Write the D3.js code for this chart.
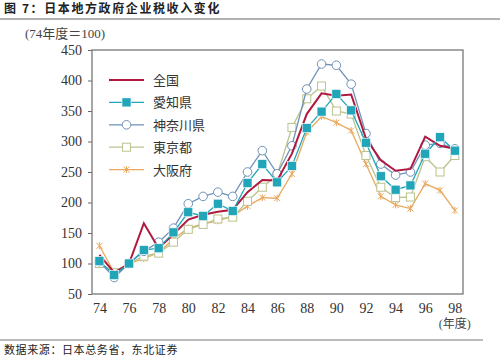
<!DOCTYPE html>
<html>
<head>
<meta charset="utf-8">
<script src="https://cdn.jsdelivr.net/npm/d3@7"></script>
<style>
  body { margin: 0; background: #fff; }
  svg { display: block; }
</style>
</head>
<body>
<div id="chart"></div>
<script>
const years = d3.range(74, 99)
const xTicks = [74, 76, 78, 80, 82, 84, 86, 88, 90, 92, 94, 96, 98]
const yTicks = [50, 100, 150, 200, 250, 300, 350, 400, 450]

const zenkoku  = [114, 85, 100, 166, 125, 148, 172, 180, 185, 188, 217, 237, 236, 280, 345, 379, 375, 377, 305, 269, 252, 255, 308, 293, 288]
const aichi    = [104, 81, 100, 122, 125, 151, 184, 178, 198, 186, 232, 263, 233, 260, 322, 349, 378, 351, 298, 243, 221, 228, 280, 307, 285]
const kanagawa = [103, 77, 100, 120, 135, 158, 198, 210, 217, 210, 250, 285, 247, 293, 386, 427, 425, 394, 313, 263, 245, 250, 294, 297, 288]
const tokyo    = [100, 85, 100, 112, 117, 135, 156, 164, 173, 176, 202, 225, 245, 323, 370, 391, 350, 345, 277, 225, 208, 209, 275, 250, 277]
const osaka    = [129, 85, 100, 108, 118, 140, 158, 165, 170, 178, 194, 208, 207, 247, 315, 341, 331, 318, 263, 210, 196, 190, 231, 220, 187]

const series = [
  { name: '大阪府', values: osaka, color: '#eaa85c', marker: 'x' },
  { name: '東京都', values: tokyo, color: '#b9c48e', marker: 'square-open' },
  { name: '神奈川県', values: kanagawa, color: '#6f92b8', marker: 'circle' },
  { name: '全国', values: zenkoku, color: '#b01840', marker: 'none' },
  { name: '愛知県', values: aichi, color: '#20a6b8', marker: 'square' }
]
const legendOrder = ['全国', '愛知県', '神奈川県', '東京都', '大阪府']

const serif = "'Liberation Serif', 'DejaVu Serif', serif"

const svg = d3.select('#chart').append('svg')
  .attr('width', 500).attr('height', 361)

// title and footer
svg.append('text')
  .attr('x', 4).attr('y', 13)
  .attr('font-family', "'Noto Sans CJK SC', sans-serif")
  .attr('font-weight', 'bold').attr('font-size', 12).attr('fill', '#222')
  .attr('letter-spacing', 1.6)
  .text('图 7：日本地方政府企业税收入变化')
svg.append('line').attr('x1', 0).attr('x2', 500).attr('y1', 19).attr('y2', 19)
  .attr('stroke', '#999').attr('stroke-width', 1.5)
svg.append('line').attr('x1', 0).attr('x2', 483).attr('y1', 340).attr('y2', 340)
  .attr('stroke', '#777').attr('stroke-width', 1)
svg.append('text')
  .attr('x', 4).attr('y', 354)
  .attr('font-family', "'Noto Sans CJK SC', sans-serif")
  .attr('font-size', 11).attr('fill', '#222')
  .attr('letter-spacing', 0.6)
  .text('数据来源：日本总务省，东北证券')

let margin = { top: 50, left: 92 },
    width = 463 - 92,
    height = 294 - 50

let x = d3.scaleLinear().domain([73.5, 98.55]).range([0, width])
let y = d3.scaleLinear().domain([50, 450]).range([height, 0])

let g = svg.append('g')
  .attr('transform', 'translate(' + margin.left + ',' + margin.top + ')')

g.append('text')
  .attr('x', -67).attr('y', -12)
  .attr('font-family', "'Liberation Serif', 'Noto Sans CJK JP', serif")
  .attr('font-size', 13).attr('fill', '#444')
  .text('(74年度＝100)')

g.append('g')
  .attr('transform', 'translate(0,' + height + ')')
  .call(d3.axisBottom(x).tickValues(xTicks).tickSize(0).tickPadding(9).tickSizeOuter(0))
  .attr('font-family', serif).attr('font-size', 14)
  .call(a => a.select('.domain').remove())
  .call(a => a.selectAll('.tick text').attr('fill', '#333'))

g.append('g')
  .call(d3.axisLeft(y).tickValues(yTicks).tickSize(4).tickPadding(6).tickSizeOuter(0))
  .attr('font-family', serif).attr('font-size', 14)
  .call(a => a.select('.domain').remove())
  .call(a => a.selectAll('.tick line').attr('stroke', '#666'))
  .call(a => a.selectAll('.tick text').attr('fill', '#333'))

g.append('text')
  .attr('x', x(98)).attr('y', height + 34)
  .attr('text-anchor', 'middle')
  .attr('font-family', "'Liberation Serif', 'Noto Sans CJK JP', serif")
  .attr('font-size', 12).attr('fill', '#444')
  .text('(年度)')

g.append('rect')
  .attr('width', width).attr('height', height)
  .attr('fill', 'none').attr('stroke', '#777').attr('stroke-width', 1.3)

function drawMarker(sel, s, px, py) {
  if (s.marker === 'square') {
    sel.append('rect').attr('x', px - 4.5).attr('y', py - 4.5).attr('width', 9).attr('height', 9)
      .attr('fill', s.color).attr('stroke', '#fff').attr('stroke-width', 0.6)
  } else if (s.marker === 'square-open') {
    sel.append('rect').attr('x', px - 4).attr('y', py - 4).attr('width', 8).attr('height', 8)
      .attr('fill', '#fff').attr('stroke', s.color).attr('stroke-width', 1)
  } else if (s.marker === 'circle') {
    sel.append('circle').attr('cx', px).attr('cy', py).attr('r', 4.3)
      .attr('fill', '#fff').attr('stroke', s.color).attr('stroke-width', 1)
  } else if (s.marker === 'x') {
    sel.append('path')
      .attr('d', `M${px - 3},${py - 3}L${px + 3},${py + 3}M${px - 3},${py + 3}L${px + 3},${py - 3}M${px},${py - 3.5}L${px},${py + 3.5}`)
      .attr('stroke', s.color).attr('stroke-width', 1)
  }
}

let line = d3.line().x(d => x(d.x)).y(d => y(d.y))

series.forEach(s => {
  const data = years.map((yr, i) => ({ x: yr, y: s.values[i] }))
  const sg = g.append('g')
  sg.append('path').datum(data)
    .attr('d', line).attr('fill', 'none')
    .attr('stroke', s.color).attr('stroke-width', s.marker === 'none' ? 2 : 1.3)
  data.forEach(d => drawMarker(sg, s, x(d.x), y(d.y)))
})

// legend
const lg = svg.append('g')
legendOrder.forEach((name, i) => {
  const s = series.find(t => t.name === name)
  const ly = 80 + i * 22.4
  lg.append('line').attr('x1', 109).attr('x2', 144).attr('y1', ly).attr('y2', ly)
    .attr('stroke', s.color).attr('stroke-width', s.marker === 'none' ? 2 : 1.3)
  drawMarker(lg, s, 126.5, ly)
  lg.append('text').attr('x', 153).attr('y', ly + 5)
    .attr('font-family', "'Noto Sans CJK JP', serif")
    .attr('font-size', 13).attr('fill', '#333')
    .text(name)
})
</script>
</body>
</html>
